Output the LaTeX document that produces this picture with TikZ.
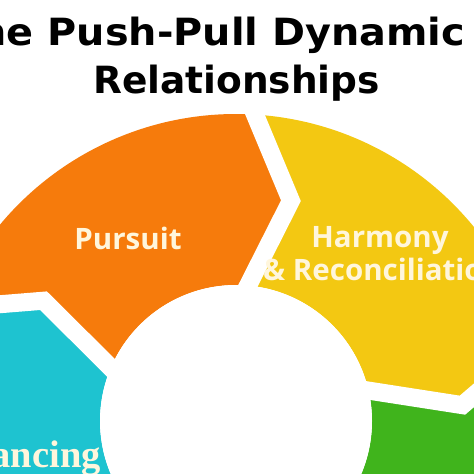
\documentclass[tikz,border=0pt]{standalone}
\usepackage{fontspec}
\setmainfont{Open Sans}
\newfontfamily\titlefont{DejaVu Sans}
\newfontfamily\serifbold{Liberation Serif}
\definecolor{cOrange}{HTML}{F67B0C}
\definecolor{cYellow}{HTML}{F3C812}
\definecolor{cGreen}{HTML}{40B41C}
\definecolor{cCyan}{HTML}{1EC3D0}
\definecolor{cText}{HTML}{FFF6DC}
\tikzset{
  gapline/.style={draw=white, line width=18pt, miter limit=10, line join=miter},
  titletext/.style={font=\titlefont\bfseries\fontsize{37.5}{40}\selectfont, text=black, inner sep=0pt},
  segtext/.style={font=\bfseries\fontsize{29.5}{33}\selectfont, text=cText, inner sep=0pt},
}
\begin{document}
\begin{tikzpicture}[x=1pt,y=1pt]
\useasboundingbox (0,-474) rectangle (474,0);
\clip (0,-474) rectangle (474,0);
\fill[white] (0,-474) rectangle (474,0);
\begin{scope}[shift={(236,-421)}]
  % cyan segment (232 -> 160)
  \fill[cCyan] (232:307pt) arc[start angle=232,end angle=160,radius=307pt] -- (148:227pt) -- (160:136pt)
     arc[start angle=160,end angle=232,radius=136pt] -- (220:227pt) -- cycle;
  % orange segment (160 -> 88)
  \fill[cOrange] (160:307pt) arc[start angle=160,end angle=88,radius=307pt] -- (76:227pt) -- (88:136pt)
     arc[start angle=88,end angle=160,radius=136pt] -- (148:227pt) -- cycle;
  % yellow segment (88 -> 16)
  \fill[cYellow] (88:307pt) arc[start angle=88,end angle=16,radius=307pt] -- (4:227pt) -- (16:136pt)
     arc[start angle=16,end angle=88,radius=136pt] -- (76:227pt) -- cycle;
  % green segment (16 -> -56)
  \fill[cGreen] (16:307pt) arc[start angle=16,end angle=-56,radius=307pt] -- (-68:227pt) -- (-56:136pt)
     arc[start angle=-56,end angle=16,radius=136pt] -- (4:227pt) -- cycle;
  % white gaps
  \coordinate (g1o) at (160:325pt); \coordinate (g1v) at (148:227pt); \coordinate (g1i) at (160:120pt);
  \coordinate (g2o) at (88:325pt);  \coordinate (g2v) at (76:227pt);  \coordinate (g2i) at (88:120pt);
  \coordinate (g3o) at (16:325pt);  \coordinate (g3v) at (4:227pt);   \coordinate (g3i) at (16:120pt);
  \coordinate (g4o) at (-56:325pt); \coordinate (g4v) at (-68:227pt); \coordinate (g4i) at (-56:120pt);
  \draw[gapline] (g1o) -- (g1v) -- (g1i);
  \draw[gapline] (g2o) -- (g2v) -- (g2i);
  \draw[gapline] (g3o) -- (g3v) -- (g3i);
  \draw[gapline] (g4o) -- (g4v) -- (g4i);
  \fill[white] (0,0) circle[radius=136pt];
\end{scope}
% title
\node[titletext, anchor=base east, xscale=1.06, transform shape] (t1) at (465,-45) {The Push-Pull Dynamic};
\node[titletext, anchor=base] (t2) at (236.5,-93) {Relationships};
% labels
\node[segtext, anchor=base] (pursuit) at (128,-249) {Pursuit};
\node[segtext, anchor=base] (harm) at (380,-247) {Harmony};
\node[segtext, anchor=base west] (recon) at (263,-280) {\&~Reconciliation};
\node[segtext, font=\serifbold\bfseries\fontsize{38.5}{40}\selectfont, anchor=base east] (dist) at (101,-467) {Distancing};
\end{tikzpicture}
\end{document}
